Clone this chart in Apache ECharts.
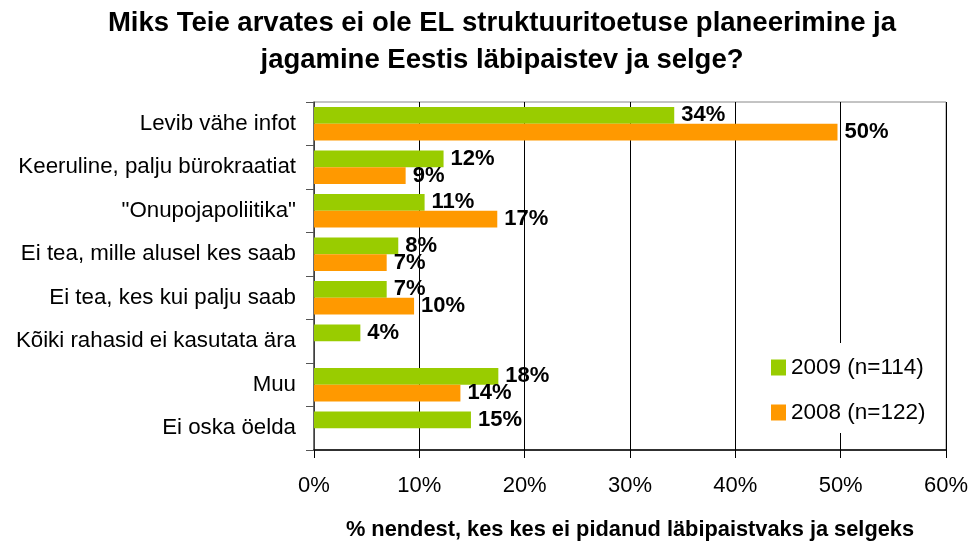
<!DOCTYPE html>
<html>
<head>
<meta charset="utf-8">
<script src="https://cdn.jsdelivr.net/npm/echarts@6/dist/echarts.min.js"></script>
<style>html,body{margin:0;padding:0;background:#fff}#c{width:972px;height:546px}</style>
</head>
<body>
<div id="c"></div>
<script>
const titleText = 'Miks Teie arvates ei ole EL struktuuritoetuse planeerimine ja\njagamine Eestis läbipaistev ja selge?';
const categories = ['Levib vähe infot', 'Keeruline, palju bürokraatiat', '"Onupojapoliitika"', 'Ei tea, mille alusel kes saab', 'Ei tea, kes kui palju saab', 'Kõiki rahasid ei kasutata ära', 'Muu', 'Ei oska öelda'];
const seriesNames = ['2009 (n=114)', '2008 (n=122)'];
const values2009 = [34.2, 12.3, 10.5, 8.0, 6.9, 4.4, 17.5, 14.9];
const values2008 = [49.7, 8.7, 17.4, 6.9, 9.5, null, 13.9, null];
const xTicks = [0, 10, 20, 30, 40, 50, 60];
const xAxisName = '% nendest, kes kes ei pidanud läbipaistvaks ja selgeks';

const FONT = 'Liberation Sans';
const chart = echarts.init(document.getElementById('c'), null, {renderer: 'canvas'});
const labelCfg = {
  show: true, position: 'right', distance: 7,
  fontFamily: FONT, fontWeight: 'bold', fontSize: 22, color: '#000',
  formatter: p => Math.round(p.value) + '%'
};
chart.setOption({
  animation: false,
  backgroundColor: '#fff',
  title: {
    text: titleText, left: 497, top: 0, textAlign: 'center',
    textStyle: {fontFamily: FONT, fontWeight: 'bold', fontSize: 27.5, lineHeight: 37, color: '#000'}
  },
  legend: {
    orient: 'vertical', left: 765, top: 343,
    padding: [13, 8, 9, 6], backgroundColor: '#fff',
    itemWidth: 15, itemHeight: 16, itemGap: 22, icon: 'rect',
    textStyle: {fontFamily: FONT, fontSize: 22.5, color: '#000'},
    data: seriesNames
  },
  grid: {left: 314, right: 26, top: 102, bottom: 94, show: true, borderColor: '#888', borderWidth: 1, containLabel: false},
  xAxis: {
    type: 'value', min: xTicks[0], max: xTicks[xTicks.length - 1], interval: 10,
    axisLine: {show: true, lineStyle: {color: '#000', width: 1.5}},
    axisTick: {show: true, length: 8, lineStyle: {color: '#000'}},
    splitLine: {show: true, lineStyle: {color: '#000', width: 1}},
    axisLabel: {formatter: v => v + '%', margin: 25, fontFamily: FONT, fontSize: 22, color: '#000'},
    name: xAxisName, nameLocation: 'middle', nameGap: 69,
    nameTextStyle: {fontFamily: FONT, fontWeight: 'bold', fontSize: 21.8, color: '#000'}
  },
  yAxis: {
    type: 'category', inverse: true, data: categories,
    axisLine: {show: true, lineStyle: {color: '#555', width: 1.5}},
    axisTick: {show: true, length: 8, lineStyle: {color: '#555'}},
    axisLabel: {margin: 18, fontFamily: FONT, fontSize: 22.3, color: '#000'}
  },
  series: [
    {name: seriesNames[0], type: 'bar', data: values2009, barGap: '0%', barCategoryGap: '23%',
     itemStyle: {color: '#99CC00'}, label: labelCfg},
    {name: seriesNames[1], type: 'bar', data: values2008, barGap: '0%', barCategoryGap: '23%',
     itemStyle: {color: '#FF9900'}, label: labelCfg}
  ]
});
</script>
</body>
</html>
